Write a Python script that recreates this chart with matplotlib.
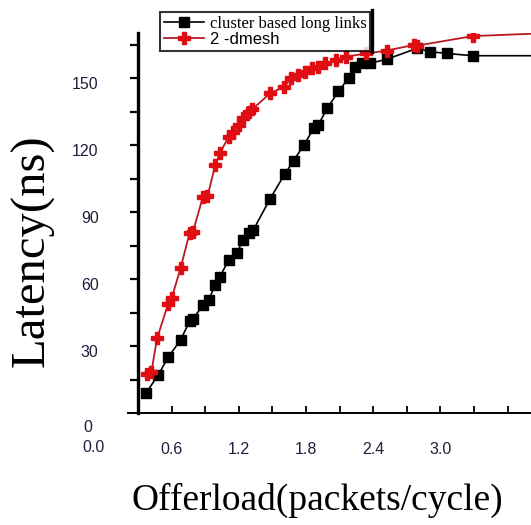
import matplotlib
matplotlib.use("Agg")
import matplotlib.pyplot as plt
from matplotlib.lines import Line2D
import matplotlib.transforms as mtransforms

# ---- data ----
cluster_x = [0.37, 0.48, 0.57, 0.68, 0.76, 0.79, 0.88, 0.93, 0.99, 1.03, 1.11, 1.18,
             1.24, 1.29, 1.33, 1.48, 1.61, 1.69, 1.78, 1.87, 1.91, 1.99, 2.09, 2.18,
             2.24, 2.30, 2.37, 2.52, 2.79, 2.91, 3.06, 3.29, 3.90]
cluster_y = [8.8, 17, 25, 32.7, 41, 42, 48.4, 50.6, 57.3, 61, 68.5, 71.5,
             77.5, 80.5, 82, 96, 107, 113, 120, 127.5, 129, 136.5, 144, 150,
             155, 156.6, 156.6, 158.4, 163.3, 161.8, 161, 160, 160]
mesh_x = [0.38, 0.42, 0.47, 0.57, 0.60, 0.68, 0.76, 0.79, 0.88, 0.92, 0.99, 1.03,
          1.11, 1.15, 1.20, 1.24, 1.29, 1.32, 1.48, 1.60, 1.67, 1.73, 1.79, 1.85,
          1.91, 1.97, 2.07, 2.16, 2.34, 2.52, 2.76, 2.79, 3.29, 3.90]
mesh_y = [17.5, 18.5, 33.4, 49, 51.4, 64.8, 80.5, 81, 96.9, 97, 111, 116.3,
          123.7, 126, 129, 132, 135, 136, 143.2, 146, 150, 151.4, 152.5, 154.3,
          155, 156.6, 158, 159.6, 161, 162.3, 164.8, 164.5, 168.8, 170]
series_labels = ["cluster based long links", "2 -dmesh"]
x_ticks = [0.6, 0.9, 1.2, 1.5, 1.8, 2.1, 2.4, 2.7, 3.0, 3.3, 3.6]
x_tick_labels = ["0.6", "", "1.2", "", "1.8", "", "2.4", "", "3.0", "", ""]
y_ticks = [15, 30, 45, 60, 75, 90, 105, 120, 135, 150, 165]
y_label_values = [30, 60, 90, 120, 150]

W, H = 531, 525
fig = plt.figure(figsize=(W / 100, H / 100), dpi=100)
ax = fig.add_axes([138 / W, 1 - 413 / H, (W - 138) / W, (413 - 33) / H])

ax.plot(cluster_x, cluster_y, color="black", lw=1.2, marker="s", ms=6.5,
        mfc="black", mec="black", label=series_labels[0])
ax.plot(mesh_x, mesh_y, color="#b81a22", lw=1.3, marker="P", ms=8,
        mfc="#e00d12", mec="#e00d12", label=series_labels[1])

ax.set_xlim(0.3, 0.3 + (W - 138) / 33.6 * 0.3)
ax.set_ylim(0, 380 / 2.233)

for s in ["top", "right"]:
    ax.spines[s].set_visible(False)
ax.spines["left"].set_linewidth(2.4)
ax.spines["bottom"].set_linewidth(1.4)
ax.spines["bottom"].set_bounds(0.3 - 10 * 0.3 / 33.6, 4.0)

ax.set_xticks(x_ticks)
ax.set_xticklabels(x_tick_labels)
ax.tick_params(axis="x", direction="in", length=5, width=1.3, pad=21,
               labelsize=11.5, labelcolor="#1e1e3c")
ax.set_yticks(y_ticks)
ax.set_yticklabels([])
ax.tick_params(axis="y", direction="out", length=6, width=1.6)

# y tick labels (placed slightly below their ticks, like the reference)
off = mtransforms.ScaledTranslation(0, -5 / 72, fig.dpi_scale_trans)
ytr = mtransforms.blended_transform_factory(ax.transAxes, ax.transData) + off
for v in y_label_values:
    ax.text(-0.10, v, str(v), transform=ytr, ha="right", va="center",
            fontsize=11.5, color="#1e1e3c", family="Liberation Sans")
ax.text(-0.127, -0.039, "0", transform=ax.transAxes, ha="center", va="center",
        fontsize=11.5, color="#1e1e3c", family="Liberation Sans")
ax.text(-0.112, -0.092, "0.0", transform=ax.transAxes, ha="center", va="center",
        fontsize=11.5, color="#1e1e3c", family="Liberation Sans")
for t in ax.get_xticklabels():
    t.set_family("Liberation Sans")

fig.text(33 / W, 1 - 251 / H, "Latency(ns)", rotation=90, ha="center", va="center",
         fontsize=35, family="Liberation Serif", color="black")
fig.text(317 / W, 1 - 500 / H, "Offerload(packets/cycle)", ha="center", va="center",
         fontsize=27, family="Liberation Serif", color="black")

leg = ax.legend(loc="upper left", bbox_to_anchor=((160 - 138) / 393, (413 - 12) / 380),
                borderaxespad=0, borderpad=0.25, labelspacing=0.0, handlelength=2.6,
                handletextpad=0.4, fontsize=11, frameon=True, fancybox=False,
                edgecolor="black")
leg.get_frame().set_linewidth(1.5)
texts = leg.get_texts()
texts[0].set_family("Liberation Serif")
texts[0].set_fontsize(12)
texts[1].set_family("Liberation Sans")
texts[1].set_fontsize(12)
fig.add_artist(Line2D([372 / W, 372 / W], [1 - 10 / H, 1 - 52 / H], color="black",
                      lw=2.4, transform=fig.transFigure))

fig.savefig("out.png", dpi=100)
